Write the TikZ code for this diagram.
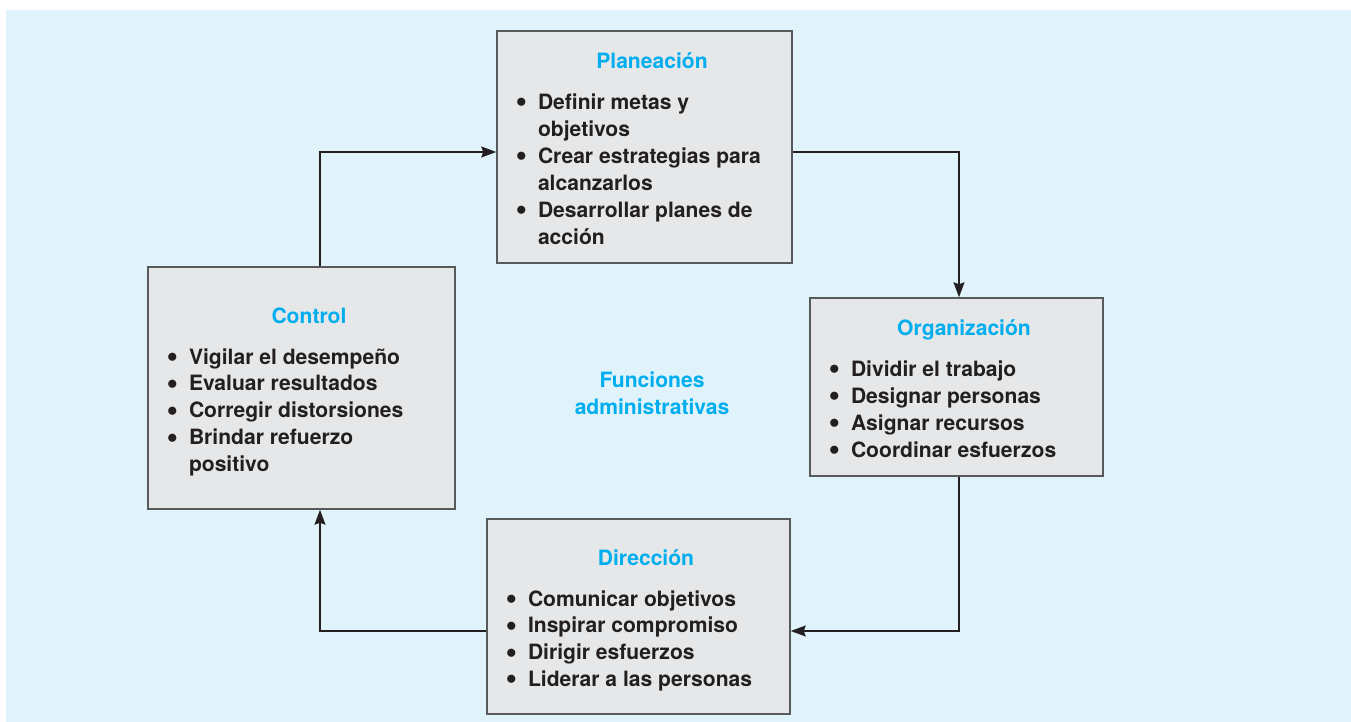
\documentclass[tikz,border=0pt]{standalone}
\usepackage{fontspec}
\setmainfont{TeX Gyre Heros}
\usetikzlibrary{arrows.meta}

\definecolor{colfondo}{HTML}{E0F3FB}
\definecolor{colcaja}{HTML}{E6E7E8}
\definecolor{colborde}{HTML}{58595B}
\definecolor{coltitulo}{HTML}{00AEEF}
\definecolor{coltexto}{HTML}{231F20}

\newcommand{\vineta}{\raisebox{1pt}{$\bullet$}}
% contenido de una caja: ancho de columna, titulo, renglones
\newcommand{\funcion}[3]{%
  \raisebox{-2.3pt}[\height][\depth]{\begin{tabular}{@{\hspace{0.38cm}}p{0.44cm}@{}p{#1}@{\hspace{0.08cm}}}
    \multicolumn{2}{@{\hspace{0.38cm}}c@{\hspace{0.08cm}}}{\color{coltitulo}#2}\\[8pt]
    #3
  \end{tabular}}}

\begin{document}
\begin{tikzpicture}[
    funcion/.style={draw=colborde, fill=colcaja, line width=0.85pt, inner sep=0pt,
      text=coltexto, font=\fontsize{12}{15.3}\selectfont\bfseries},
    rotulo/.style={text=coltitulo, align=center, font=\fontsize{12}{15.3}\selectfont\bfseries},
    flecha/.style={draw=coltexto, line width=0.8pt,
      -{Stealth[length=0.3cm, width=0.22cm, inset=0.04cm]}}]
    \useasboundingbox (0,0) rectangle (27.02,14.44);
    \fill[colfondo] (0.12,0) rectangle (27.02,14.24);

    % Las cuatro funciones
    \node[funcion, minimum width=5.90cm, minimum height=4.64cm] (plan) at (12.89,11.50)
      {\funcion{5.00cm}{Planeación}{
        \vineta & Definir metas y\\
                & objetivos\\
        \vineta & Crear estrategias para\\
                & alcanzarlos\\
        \vineta & Desarrollar planes de\\
                & acción}};
    \node[funcion, minimum width=5.86cm, minimum height=3.56cm] (org) at (19.13,6.70)
      {\funcion{4.96cm}{Organización}{
        \vineta & Dividir el trabajo\\
        \vineta & Designar personas\\
        \vineta & Asignar recursos\\
        \vineta & Coordinar esfuerzos}};
    \node[funcion, minimum width=6.06cm, minimum height=3.90cm] (dir) at (12.77,2.11)
      {\funcion{5.16cm}{Dirección}{
        \vineta & Comunicar objetivos\\
        \vineta & Inspirar compromiso\\
        \vineta & Dirigir esfuerzos\\
        \vineta & Liderar a las personas}};
    \node[funcion, minimum width=6.14cm, minimum height=4.84cm] (ctrl) at (6.03,6.68)
      {\funcion{5.24cm}{Control}{
        \vineta & Vigilar el desempeño\\
        \vineta & Evaluar resultados\\
        \vineta & Corregir distorsiones\\
        \vineta & Brindar refuerzo\\
                & positivo}};

    % Centro
    \node[rotulo] (centro) at (13.04,6.57) {Funciones\\administrativas};

    % Esquinas del ciclo
    \coordinate (c1) at (6.40,11.40);
    \coordinate (c2) at (19.18,11.40);
    \coordinate (c3) at (19.18,1.82);
    \coordinate (c4) at (6.40,1.82);

    \draw[flecha] (ctrl.north -| c1) |- (plan.west |- c1);
    \draw[flecha] (plan.east |- c2) -| (org.north -| c2);
    \draw[flecha] (org.south -| c3) |- (dir.east |- c3);
    \draw[flecha] (dir.west |- c4) -| (ctrl.south -| c4);
\end{tikzpicture}
\end{document}
